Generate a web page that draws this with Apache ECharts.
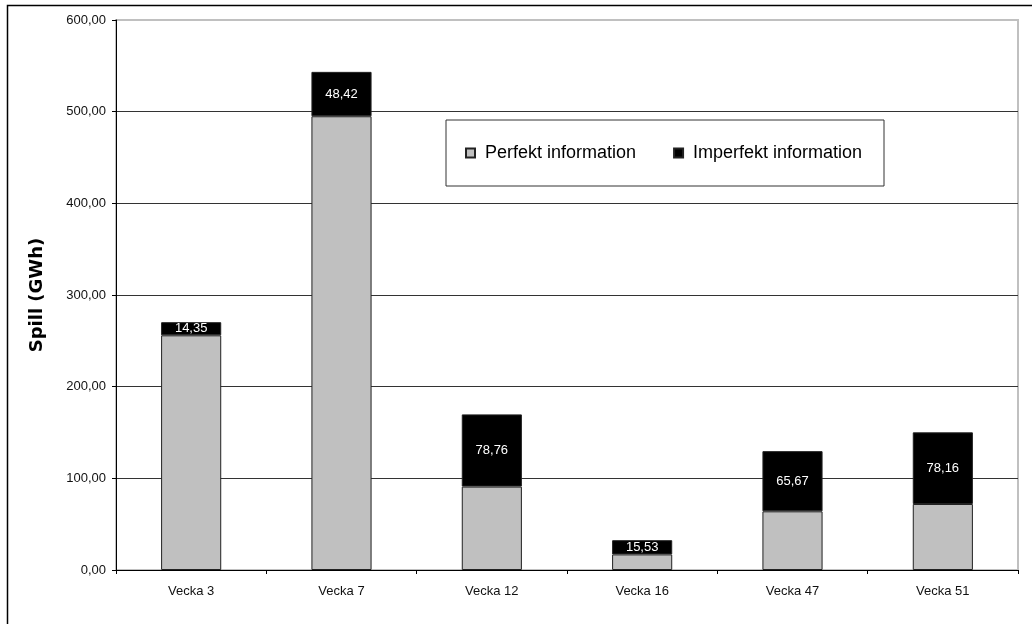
<!DOCTYPE html>
<html>
<head>
<meta charset="utf-8">
<script src="https://cdn.jsdelivr.net/npm/echarts@6/dist/echarts.min.js"></script>
<style>
  html, body { margin: 0; padding: 0; background: #fff; }
  #spillChart { width: 1032px; height: 624px; }
</style>
</head>
<body>
<div id="spillChart"></div>
<script>
// veckor
const weeks = ['Vecka 3', 'Vecka 7', 'Vecka 12', 'Vecka 16', 'Vecka 47', 'Vecka 51']
// Spill (GWh), perfekt information
const perfekt = [256, 495, 91, 17, 64, 72]
// tillskott vid imperfekt information
const imperfekt = [14.35, 48.42, 78.76, 15.53, 65.67, 78.16]
const yTicks = [0, 100, 200, 300, 400, 500, 600]

const fmt = v => v.toFixed(2).replace('.', ',')

const chart = echarts.init(document.getElementById('spillChart'))
const option = {
  animation: false,
  textStyle: { fontFamily: 'Liberation Sans, Arial, sans-serif' },
  grid: {
    left: 116, right: 14, top: 20, bottom: 54,
    show: true, borderColor: '#c0c0c0', borderWidth: 2, backgroundColor: '#fff'
  },
  legend: {
    left: 460, top: 139,
    icon: 'rect',
    itemWidth: 9, itemHeight: 9, itemGap: 37,
    textStyle: { fontSize: 18, color: '#000' },
    formatter: name => ' ' + name,
    data: ['Perfekt information', 'Imperfekt information']
  },
  graphic: [
    { // ram runt hela diagrammet
      type: 'rect', silent: true, z: 100,
      shape: { x: 7.5, y: 5.5, width: 1100, height: 700 },
      style: { fill: 'none', stroke: '#000', lineWidth: 1.5 }
    },
    { // legendruta
      type: 'rect', silent: true, z: 1,
      shape: { x: 446, y: 120, width: 438, height: 66 },
      style: { fill: '#fff', stroke: '#333', lineWidth: 1 }
    }
  ],
  xAxis: {
    type: 'category',
    data: weeks,
    axisLine: { lineStyle: { color: '#000', width: 1 } },
    axisTick: { show: true, length: 4, lineStyle: { color: '#000' } },
    axisLabel: { fontSize: 13, color: '#111', margin: 15 }
  },
  yAxis: {
    type: 'value',
    min: yTicks[0], max: yTicks[yTicks.length - 1], interval: 100,
    name: 'Spill (GWh)',
    nameLocation: 'middle',
    nameGap: 70,
    nameTextStyle: { fontSize: 18, fontWeight: 'bold', color: '#000', fontFamily: 'DejaVu Sans' },
    axisLine: { show: true, lineStyle: { color: '#000', width: 1 } },
    axisTick: { show: true, length: 4, lineStyle: { color: '#000' } },
    axisLabel: { fontSize: 13, color: '#111', margin: 10, formatter: fmt },
    splitLine: { show: true, showMaxLine: false, lineStyle: { color: '#333', width: 1 } }
  },
  series: [{
    name: 'Perfekt information',
    type: 'bar',
    stack: 'spill',
    barCategoryGap: '60%',
    itemStyle: { color: '#c0c0c0', borderColor: '#222', borderWidth: 1 },
    data: perfekt
  }, {
    name: 'Imperfekt information',
    type: 'bar',
    stack: 'spill',
    itemStyle: { color: '#000', borderColor: '#222', borderWidth: 1 },
    label: {
      show: true,
      position: 'inside',
      color: '#fff',
      fontSize: 13,
      formatter: p => fmt(p.value)
    },
    data: imperfekt
  }]
}
chart.setOption(option, true)
</script>
</body>
</html>
